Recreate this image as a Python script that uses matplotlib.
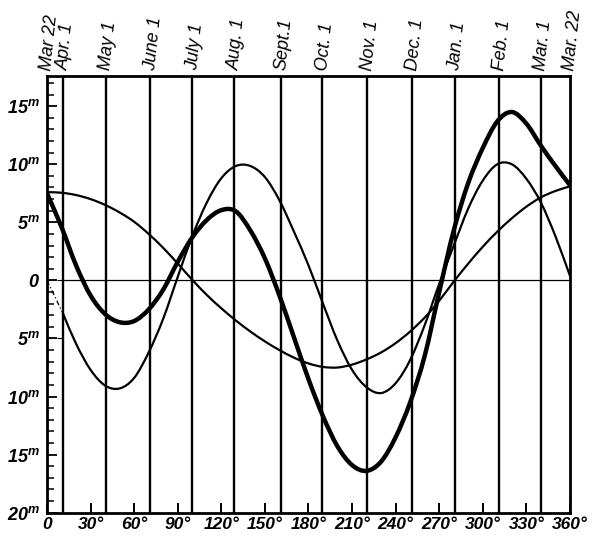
import matplotlib
matplotlib.use('Agg')
import matplotlib.pyplot as plt
from matplotlib.path import Path
from matplotlib.patches import PathPatch
import numpy as np

plt.rcParams['mathtext.fontset'] = 'custom'
plt.rcParams['mathtext.rm'] = 'Liberation Sans:italic:bold'
plt.rcParams['mathtext.it'] = 'Liberation Sans:italic:bold'
plt.rcParams['mathtext.bf'] = 'Liberation Sans:italic:bold'

# ---- data ----
month_labels = ["Mar 22", "Apr. 1", "May 1", "June 1", "July 1", "Aug. 1", "Sept.1",
                "Oct. 1", "Nov. 1", "Dec. 1", "Jan. 1", "Feb. 1", "Mar. 1", "Mar. 22"]
month_deg = [0, 11, 40.5, 71, 100, 129, 161, 189.5, 220.5, 251.5, 280.8, 311.3, 340, 360]

x_ticks = [0, 30, 60, 90, 120, 150, 180, 210, 240, 270, 300, 330, 360]
x_tick_labels = ["0", "30°", "60°", "90°", "120°", "150°", "180°", "210°", "240°",
                 "270°", "300°", "330°", "360°"]
y_ticks = [-20, -15, -10, -5, 0, 5, 10, 15]
y_tick_labels = [r"$20^{m}$", r"$15^{m}$", r"$10^{m}$", r"$5^{m}$", r"$0$",
                 r"$5^{m}$", r"$10^{m}$", r"$15^{m}$"]

# eccentricity curve (thin, one wave per year)
ecc_deg = [0, 10, 20, 30, 40, 50, 60, 70, 80, 90, 100, 110, 120, 130, 140, 150, 160,
           170, 180, 190, 200, 210, 220, 230, 240, 250, 260, 270, 280, 290, 300, 310,
           320, 330, 340, 350, 360]
ecc_val = [7.6, 7.55, 7.35, 7.0, 6.5, 5.85, 5.05, 4.0, 2.8, 1.45, 0.05, -1.25, -2.4,
           -3.45, -4.4, -5.25, -6.0, -6.65, -7.15, -7.45, -7.5, -7.25, -6.8, -6.2, -5.4,
           -4.4, -3.2, -1.75, -0.1, 1.45, 2.9, 4.2, 5.35, 6.35, 7.15, 7.7, 8.1]

# obliquity curve (thin, two waves per year); first part dash-dotted
obl_dash_deg = [0, 11]
obl_dash_val = [0, -2.85]
obl_deg = [11, 20, 30, 40, 50, 60, 70, 80, 90, 100, 110, 120, 130, 140, 150,
           160, 170, 180, 190, 200, 210, 220, 230, 240, 250, 260, 270, 280, 290, 300,
           310, 320, 330, 340, 350, 360]
obl_val = [-2.85, -5.45, -7.7, -9.05, -9.3, -8.4, -6.2, -3.3, 0.3, 3.8, 6.7, 8.8,
           9.85, 9.85, 8.9, 6.9, 4.2, 1.3, -2.0, -5.2, -7.7, -9.2, -9.7, -8.85,
           -6.85, -3.85, -0.3, 3.0, 6.2, 8.6, 10.0, 10.0, 8.75, 6.7, 3.8, 0.4]

# equation of time (thick, sum)
eot_deg = [0, 10, 20, 30, 40, 50, 60, 70, 80, 90, 100, 110, 120, 130, 140, 150,
           160, 170, 180, 190, 200, 210, 220, 230, 240, 250, 260, 270, 280, 290, 300, 310,
           320, 330, 340, 350, 360]
eot_val = [7.5, 4.6, 1.3, -1.3, -2.9, -3.6, -3.5, -2.5, -0.8, 1.6, 3.7, 5.2, 6.05,
           5.95, 4.3, 1.9, -1.3, -4.9, -8.5, -11.7, -14.3, -15.9, -16.4, -15.6, -13.5,
           -10.5, -6.5, -1.0, 4.3, 8.4, 11.4, 13.7, 14.5, 13.5, 11.6, 9.85, 8.2]


def smooth_path(xs, ys):
    x = np.asarray(xs, float)
    y = np.asarray(ys, float)
    n = len(x)
    m = np.zeros(n)
    for i in range(n):
        if i == 0:
            m[i] = (y[1] - y[0]) / (x[1] - x[0])
        elif i == n - 1:
            m[i] = (y[-1] - y[-2]) / (x[-1] - x[-2])
        else:
            m[i] = (y[i + 1] - y[i - 1]) / (x[i + 1] - x[i - 1])
    verts = [(x[0], y[0])]
    codes = [Path.MOVETO]
    for i in range(n - 1):
        h = x[i + 1] - x[i]
        verts += [(x[i] + h / 3, y[i] + m[i] * h / 3),
                  (x[i + 1] - h / 3, y[i + 1] - m[i + 1] * h / 3),
                  (x[i + 1], y[i + 1])]
        codes += [Path.CURVE4] * 3
    return Path(verts, codes)


fig = plt.figure(figsize=(5.97, 5.36), dpi=100)
ax = fig.add_axes([0.0787, 0.0435, 0.876, 0.8147])
ax.set_xlim(0, 360)
ax.set_ylim(-20, 17.6)

for d in month_deg[1:-1]:
    ax.axvline(d, color='black', lw=1.7, zorder=2)

ax.plot([month_deg[1], 360], [0, 0], color='black', lw=0.9, zorder=2)
dd = (0, (4, 2, 1, 2))
ax.plot([0, month_deg[1]], [0, 0], color='black', lw=0.8, ls=dd)
ax.plot([0, month_deg[1]], [-5, -5], color='black', lw=0.8, ls=dd)
ax.plot(obl_dash_deg, obl_dash_val, color='black', lw=0.9, ls=dd)

for xs, ys, lw in [(ecc_deg, ecc_val, 1.6), (obl_deg, obl_val, 1.6), (eot_deg, eot_val, 3.2)]:
    ax.add_patch(PathPatch(smooth_path(xs, ys), fill=False, edgecolor='black', lw=lw,
                           capstyle='round', joinstyle='round', zorder=3))

for s in ax.spines.values():
    s.set_linewidth(2.0)

ax.set_xticks(x_ticks)
ax.set_xticklabels(x_tick_labels, fontsize=12.5, fontstyle='italic', fontweight='bold',
                   family=['Liberation Sans', 'DejaVu Sans'])
ax.tick_params(axis='x', direction='in', length=7, width=1.4, pad=3, top=False)
ax.set_yticks(y_ticks)
ax.set_yticklabels(y_tick_labels, fontsize=13)
ax.set_yticks(np.arange(-20, 18, 1), minor=True)
ax.tick_params(axis='y', which='major', direction='in', length=7, width=1.3, pad=5)
ax.tick_params(axis='y', which='minor', direction='in', length=5, width=1.1)
ax.tick_params(axis='x', which='minor', bottom=False)

for d, lab in zip(month_deg, month_labels):
    ax.annotate(lab, xy=(d, 1), xycoords=ax.get_xaxis_transform(), xytext=(0, 4),
                textcoords='offset points', rotation=84, rotation_mode='anchor',
                ha='left', va='center', fontstyle='italic', fontsize=13,
                family=['Liberation Sans', 'DejaVu Sans'], annotation_clip=False)

fig.savefig('out.png', dpi=100)
